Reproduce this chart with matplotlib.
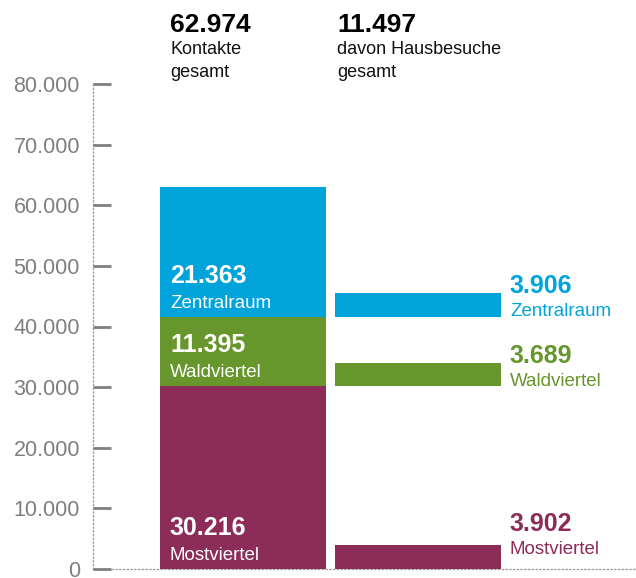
import matplotlib

matplotlib.use("Agg")
import matplotlib.pyplot as plt

# data
regions = ["Mostviertel", "Waldviertel", "Zentralraum"]
kontakte = [30216, 11395, 21363]
hausbesuche = [3902, 3689, 3906]
total_kontakte = 62974
total_hausbesuche = 11497
yticks = [0, 10000, 20000, 30000, 40000, 50000, 60000, 70000, 80000]

COLORS = ["#8C2C58", "#66962C", "#00A3DA"]
GRAY = "#7F7F7F"
FONT = "Liberation Sans"
PX = 0.72  # pt per px at dpi 100


def fmt(v):
    return f"{v:,}".replace(",", ".")


fig = plt.figure(figsize=(6.36, 5.78), dpi=100)
W, H = 636, 578
ax = fig.add_axes([93 / W, (H - 569) / H, (W - 93) / W, 485 / H])
ax.set_ylim(0, 80000)
ax.set_xlim(-0.857, 2.246)
bw = 166 / 175

base = 0
for name, k, h, c, dy in zip(regions, kontakte, hausbesuche, COLORS, [14, 0, 0]):
    ax.bar(0, k, bw, bottom=base, color=c, zorder=3)
    ax.bar(1, h, bw, bottom=base, color=c, zorder=3)
    left = -bw / 2
    ax.annotate(fmt(k), (left, base), xytext=(10 * PX, 34 * PX), textcoords="offset points",
                va="baseline", ha="left", color="white", fontsize=18, fontweight="bold",
                family=FONT, zorder=4)
    ax.annotate(name, (left, base), xytext=(10 * PX, 9 * PX), textcoords="offset points",
                va="baseline", ha="left", color="white", fontsize=13.5, family=FONT, zorder=4)
    right = 1 + bw / 2
    ax.annotate(fmt(h), (right, base + h), xytext=(9 * PX, dy * PX), textcoords="offset points",
                va="baseline", ha="left", color=c, fontsize=18, fontweight="bold",
                family=FONT, annotation_clip=False)
    ax.annotate(name, (right, base + h), xytext=(9 * PX, (dy - 23) * PX),
                textcoords="offset points", va="baseline", ha="left", color=c,
                fontsize=13.5, family=FONT, annotation_clip=False)
    base += k

ax.set_yticks(yticks)
ax.set_yticklabels([fmt(v) for v in yticks], family=FONT, fontsize=15.5, color=GRAY)
ax.tick_params(axis="y", direction="in", length=18 * PX, width=2, color=GRAY, pad=13 * PX)
ax.set_xticks([])
for s in ["top", "right"]:
    ax.spines[s].set_visible(False)
for s in ["left", "bottom"]:
    ax.spines[s].set_linestyle((0, (1, 2)))
    ax.spines[s].set_linewidth(0.9)
    ax.spines[s].set_color("#999999")
    ax.spines[s].set_zorder(1)

# headings
for x, num, lines in [(170, total_kontakte, ["Kontakte", "gesamt"]),
                      (337, total_hausbesuche, ["davon Hausbesuche", "gesamt"])]:
    fig.text(x / W, (H - 32) / H, fmt(num), fontsize=19, fontweight="bold", family=FONT,
             va="baseline", ha="left", color="black")
    for i, t in enumerate(lines):
        fig.text(x / W, (H - 54 - 23 * i) / H, t, fontsize=13, family=FONT,
                 va="baseline", ha="left", color="#111111")

fig.savefig("out.png", dpi=100)
